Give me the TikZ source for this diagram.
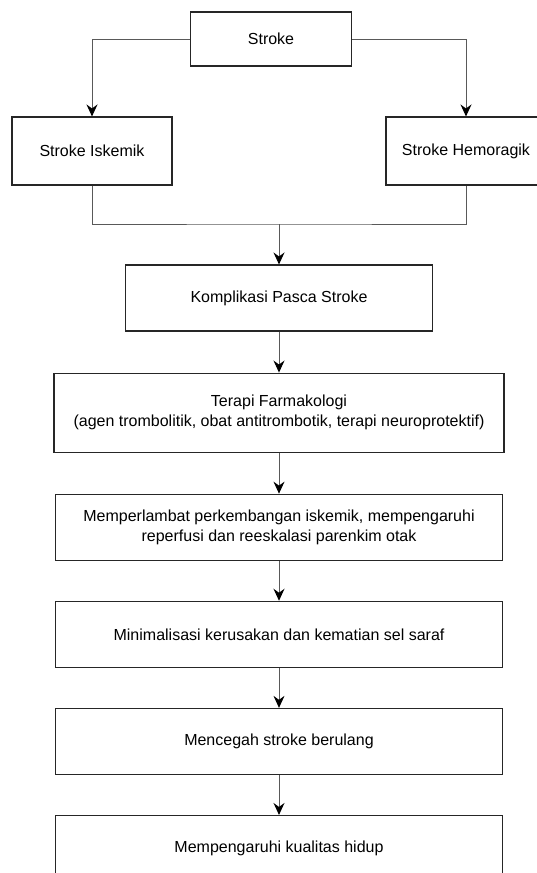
\documentclass[tikz,border=0pt]{standalone}
\usepackage{fontspec}
\setmainfont{Liberation Sans}
\usetikzlibrary{positioning,arrows.meta}

\tikzset{
  box/.style={draw=black!85, line width=1.1pt, minimum width=447pt, minimum height=66pt,
    align=center, inner sep=0pt, font=\fontsize{16}{20}\selectfont},
  link/.style={draw=black!65, line width=1pt},
  arr/.style={link, -{Stealth[length=12pt,width=11pt,inset=4pt,color=black]}},
}

\begin{document}
\begin{tikzpicture}[x=1pt,y=-1pt,node distance=40pt]
    \useasboundingbox (0,0) rectangle (536,873);
    \node[box, minimum width=161pt, minimum height=54pt] (stroke) at (271,39) {Stroke};
    \node[box, minimum width=160pt, minimum height=68pt] (iskemik) at (92,151) {Stroke Iskemik};
    \node[box, minimum width=160pt, minimum height=68pt] (hemoragik) at (466,151) {Stroke Hemoragik};
    \node[box, minimum width=307pt] (komplikasi) at (279,298) {Komplikasi Pasca Stroke};
    \node[box, minimum width=450pt, minimum height=79pt] (terapi) [below=41pt of komplikasi]
        {Terapi Farmakologi\\(agen trombolitik, obat antitrombotik, terapi neuroprotektif)};
    \node[box] (lambat) [below=41pt of terapi]
        {Memperlambat perkembangan iskemik, mempengaruhi\\reperfusi dan reeskalasi parenkim otak};
    \node[box] (minimal) [below=of lambat] {Minimalisasi kerusakan dan kematian sel saraf};
    \node[box] (cegah) [below=of minimal] {Mencegah stroke berulang};
    \node[box] (kualitas) [below=of cegah] {Mempengaruhi kualitas hidup};
    \coordinate (merge) at (279,224);

    \draw[arr] (stroke) -| (iskemik);
    \draw[arr] (stroke) -| (hemoragik);
    \draw[link] (iskemik) |- (merge) -| (hemoragik);
    \draw[arr] (merge) -- (komplikasi);
    \foreach \a/\b in {komplikasi/terapi, terapi/lambat, lambat/minimal, minimal/cegah, cegah/kualitas}
        \draw[arr] (\a) -- (\b);
\end{tikzpicture}
\end{document}
